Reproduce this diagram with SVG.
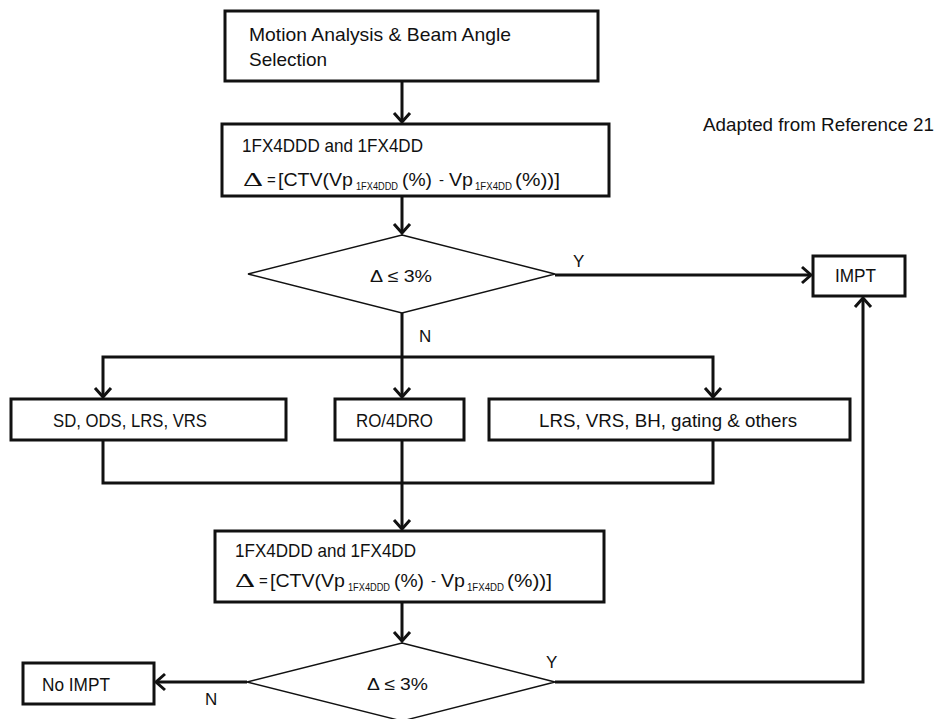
<svg xmlns="http://www.w3.org/2000/svg" width="936" height="719" viewBox="0 0 936 719">
<style>
.box{fill:#fff;stroke:#111;stroke-width:3}
.dia{fill:#fff;stroke:#111;stroke-width:1.4}
.con{fill:none;stroke:#111;stroke-width:3}
.t{font-family:"Liberation Sans",Arial,sans-serif;font-size:19px;fill:#111}
.e{font-family:"Liberation Sans",Arial,sans-serif;font-size:15px;fill:#111}
.s{font-family:"Liberation Sans",Arial,sans-serif;font-size:10px;fill:#111}
.d{font-family:"Liberation Serif","Times New Roman",serif;font-size:19px;fill:#111}
.l{font-family:"Liberation Sans",Arial,sans-serif;font-size:17px;fill:#111}
</style>
<defs>
<marker id="arr" markerUnits="userSpaceOnUse" markerWidth="24" markerHeight="24" viewBox="-12 -12 24 24" refX="0" refY="0" orient="auto">
<path d="M-9,-8 L0,0 L-9,8" fill="none" stroke="#111" stroke-width="3" stroke-linejoin="miter"/>
</marker>
</defs>
<g id="connectors">
<line class="con" x1="402" y1="81" x2="402" y2="122" marker-end="url(#arr)"/>
<line class="con" x1="402" y1="196" x2="402" y2="233" marker-end="url(#arr)"/>
<line class="con" x1="555" y1="275" x2="811" y2="275" marker-end="url(#arr)"/>
<line class="con" x1="402" y1="313" x2="402" y2="397" marker-end="url(#arr)"/>
<path class="con" d="M402,357 H103 V397" marker-end="url(#arr)"/>
<path class="con" d="M402,357 H713 V397" marker-end="url(#arr)"/>
<path class="con" d="M103,440 V483 H713 V440"/>
<line class="con" x1="402" y1="440" x2="402" y2="529" marker-end="url(#arr)"/>
<line class="con" x1="402" y1="602" x2="402" y2="641" marker-end="url(#arr)"/>
<line class="con" x1="247" y1="682" x2="156" y2="682" marker-end="url(#arr)"/>
<path class="con" d="M555,682 H863 V298" marker-end="url(#arr)"/>
</g>
<g id="motion">
<rect class="box" x="225" y="11" width="373" height="70"/>
<text class="t" x="249" y="41" textLength="262" lengthAdjust="spacingAndGlyphs">Motion Analysis &amp; Beam Angle</text>
<text class="t" x="249" y="66" textLength="78" lengthAdjust="spacingAndGlyphs">Selection</text>
</g>
<g id="calc1">
<rect class="box" x="222" y="124" width="387" height="72"/>
<text class="t" x="242" y="152" textLength="181" lengthAdjust="spacingAndGlyphs">1FX4DDD and 1FX4DD</text>
<text class="d" x="243" y="186" textLength="20" lengthAdjust="spacingAndGlyphs">Δ</text>
<text class="e" x="267" y="185">=</text>
<text class="t" x="278" y="186" textLength="75" lengthAdjust="spacingAndGlyphs">[CTV(Vp</text>
<text class="s" x="356" y="190" textLength="42" lengthAdjust="spacingAndGlyphs">1FX4DDD</text>
<text class="t" x="402" y="186" textLength="30" lengthAdjust="spacingAndGlyphs">(%)</text>
<text class="e" x="439" y="185">-</text>
<text class="t" x="449" y="186" textLength="24" lengthAdjust="spacingAndGlyphs">Vp</text>
<text class="s" x="475" y="190" textLength="37" lengthAdjust="spacingAndGlyphs">1FX4DD</text>
<text class="t" x="515" y="186" textLength="45" lengthAdjust="spacingAndGlyphs">(%))]</text>
</g>
<g id="decision1">
<polygon class="dia" points="402,235 555,274 402,313 248,274"/>
<text class="l" x="370" y="282" textLength="62" lengthAdjust="spacingAndGlyphs">Δ ≤ 3%</text>
</g>
<g id="impt">
<rect class="box" x="813" y="256" width="92" height="40"/>
<text class="t" x="835" y="282" textLength="41" lengthAdjust="spacingAndGlyphs">IMPT</text>
</g>
<g id="note">
<text class="t" x="703" y="131" textLength="231" lengthAdjust="spacingAndGlyphs">Adapted from Reference 21</text>
</g>
<g id="sd">
<rect class="box" x="11" y="399" width="275" height="41"/>
<text class="t" x="53" y="427" textLength="154" lengthAdjust="spacingAndGlyphs">SD, ODS, LRS, VRS</text>
</g>
<g id="ro">
<rect class="box" x="335" y="399" width="129" height="41"/>
<text class="t" x="356" y="427" textLength="77" lengthAdjust="spacingAndGlyphs">RO/4DRO</text>
</g>
<g id="lrs">
<rect class="box" x="489" y="399" width="361" height="41"/>
<text class="t" x="539" y="427" textLength="258" lengthAdjust="spacingAndGlyphs">LRS, VRS, BH, gating &amp; others</text>
</g>
<g id="calc2">
<rect class="box" x="215" y="531" width="389" height="71"/>
<text class="t" x="235" y="557" textLength="181" lengthAdjust="spacingAndGlyphs">1FX4DDD and 1FX4DD</text>
<text class="d" x="235" y="587" textLength="20" lengthAdjust="spacingAndGlyphs">Δ</text>
<text class="e" x="259" y="586">=</text>
<text class="t" x="270" y="587" textLength="75" lengthAdjust="spacingAndGlyphs">[CTV(Vp</text>
<text class="s" x="348" y="591" textLength="42" lengthAdjust="spacingAndGlyphs">1FX4DDD</text>
<text class="t" x="394" y="587" textLength="30" lengthAdjust="spacingAndGlyphs">(%)</text>
<text class="e" x="431" y="586">-</text>
<text class="t" x="441" y="587" textLength="24" lengthAdjust="spacingAndGlyphs">Vp</text>
<text class="s" x="467" y="591" textLength="37" lengthAdjust="spacingAndGlyphs">1FX4DD</text>
<text class="t" x="507" y="587" textLength="45" lengthAdjust="spacingAndGlyphs">(%))]</text>
</g>
<g id="decision2">
<polygon class="dia" points="402,643 555,682 402,721 247,682"/>
<text class="l" x="367" y="690" textLength="61" lengthAdjust="spacingAndGlyphs">Δ ≤ 3%</text>
</g>
<g id="noimpt">
<rect class="box" x="23" y="663" width="131" height="41"/>
<text class="t" x="42" y="691" textLength="68" lengthAdjust="spacingAndGlyphs">No IMPT</text>
</g>
<g id="labels">
<text class="l" x="573" y="267">Y</text>
<text class="l" x="419" y="342">N</text>
<text class="l" x="205" y="705">N</text>
<text class="l" x="546" y="668">Y</text>
</g>
</svg>
